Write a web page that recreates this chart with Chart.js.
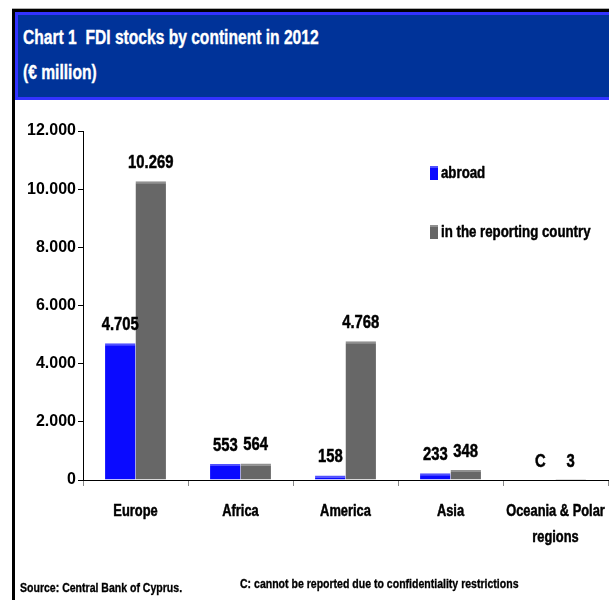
<!DOCTYPE html>
<html>
<head>
<meta charset="utf-8">
<script src="https://cdn.jsdelivr.net/npm/chart.js@4/dist/chart.umd.min.js"></script>
<style>
  html, body { margin: 0; padding: 0; background: #fff; }
  #page { position: relative; width: 609px; height: 600px; overflow: hidden; background: #fff;
          font-family: "Liberation Sans", Arial, sans-serif; font-weight: bold; }
  #shadow { position: absolute; left: 12px; top: 8px; width: 700px; height: 1px; background: #b0b0b0; }
  #frame { position: absolute; left: 12px; top: 9px; width: 700px; height: 700px;
           border-left: 3px solid #000; border-top: 3px solid #000; }
  #band { position: absolute; left: 15px; top: 12px; width: 700px; height: 82px;
          background: #003399; border: 3px solid #3333ff; border-right: none; }
  .narrow { display: inline-block; transform: scaleX(0.78); transform-origin: 0 50%; white-space: pre;
            -webkit-text-stroke: 0.35px currentColor; }
  #band .line { position: absolute; left: 5px; color: #fff; font-size: 20px; }
  #t1 { top: 11px; }
  #t2 { top: 46px; }
  #chart { position: absolute; left: 0; top: 0; }
  .note { position: absolute; font-size: 13.5px; color: #000; }
</style>
</head>
<body>
<div id="page">
  <div id="shadow"></div>
  <div id="frame"></div>
  <div id="band">
    <div class="line" id="t1"><span class="narrow">Chart 1  FDI stocks by continent in 2012</span></div>
    <div class="line" id="t2"><span class="narrow">(€ million)</span></div>
  </div>
  <canvas id="chart" width="609" height="600"></canvas>
  <div class="note" style="left:20px; top:580px;"><span class="narrow">Source: Central Bank of Cyprus.</span></div>
  <div class="note" style="left:240px; top:576px;"><span class="narrow">C: cannot be reported due to confidentiality restrictions</span></div>
</div>
<script>
// Categories and series (€ million). A null value is confidential and shown as "C".
const continents = ["Europe", "Africa", "America", "Asia", ["Oceania & Polar", "regions"]];
const abroad = [4705, 553, 158, 233, null];
const inReportingCountry = [10269, 564, 4768, 348, 3];
const seriesNames = ["abroad", "in the reporting country"];
const yTicks = [0, 2000, 4000, 6000, 8000, 10000, 12000];

const FONT = '"Liberation Sans", Arial, sans-serif';
const SQUEEZE = 0.78; // horizontal squeeze giving a condensed look to the text

// Thousands separated with a dot
function fmt(v) {
  if (v === null || v === undefined) return "C";
  return String(v).replace(/\B(?=(\d{3})+(?!\d))/g, ".");
}

// Draw horizontally condensed (and slightly heavier) text anchored at (x, y)
function narrowText(ctx, text, x, y) {
  ctx.save();
  ctx.translate(x, y);
  ctx.scale(SQUEEZE, 1);
  ctx.strokeStyle = ctx.fillStyle;
  ctx.lineWidth = 0.5;
  ctx.lineJoin = "round";
  ctx.fillText(text, 0, 0);
  ctx.strokeText(text, 0, 0);
  ctx.restore();
}

// Value labels above each bar
const valueLabels = {
  id: "valueLabels",
  afterDatasetsDraw(chart) {
    const ctx = chart.ctx;
    const y = chart.scales.y;
    const x = chart.scales.x;
    ctx.save();
    ctx.font = "bold 19px " + FONT;
    ctx.fillStyle = "#000";
    ctx.textAlign = "center";
    ctx.textBaseline = "bottom";
    chart.data.datasets.forEach((ds, di) => {
      const meta = chart.getDatasetMeta(di);
      const other = chart.getDatasetMeta(1 - di);
      ds.data.forEach((v, i) => {
        const el = meta.data[i];
        const px = el && isFinite(el.x) ? el.x : 2 * x.getPixelForValue(i) - other.data[i].x;
        const top = v === null ? y.getPixelForValue(0) : y.getPixelForValue(v);
        narrowText(ctx, fmt(v), px, top - 9);
      });
    });
    ctx.restore();
  }
};

// Category names under the x axis, centred on each category
const categoryLabels = {
  id: "categoryLabels",
  afterDraw(chart) {
    const ctx = chart.ctx;
    const x = chart.scales.x;
    const base = chart.chartArea.bottom;
    ctx.save();
    ctx.font = "bold 16.5px " + FONT;
    ctx.fillStyle = "#000";
    ctx.textAlign = "center";
    ctx.textBaseline = "middle";
    chart.data.labels.forEach((lab, i) => {
      const lines = Array.isArray(lab) ? lab : [lab];
      const cx = x.getPixelForValue(i);
      lines.forEach((ln, k) => narrowText(ctx, ln, cx, base + 31 + k * 26));
    });
    ctx.restore();
  }
};

// Legend with small upright swatches
const sideLegend = {
  id: "sideLegend",
  afterDraw(chart) {
    const ctx = chart.ctx;
    const rows = [173, 232];
    ctx.save();
    ctx.font = "bold 17px " + FONT;
    ctx.textBaseline = "middle";
    ctx.textAlign = "left";
    chart.data.datasets.forEach((ds, i) => {
      const cy = rows[i];
      ctx.fillStyle = ds.backgroundColor;
      ctx.fillRect(430, cy - 7, 8, 14);
      ctx.fillStyle = ds.borderColor;
      ctx.fillRect(430, cy - 7, 8, 2);
      ctx.fillStyle = "#000";
      narrowText(ctx, ds.label, 441, cy);
    });
    ctx.restore();
  }
};

new Chart(document.getElementById("chart"), {
  type: "bar",
  data: {
    labels: continents,
    datasets: [
      { label: seriesNames[0], data: abroad, backgroundColor: "#0a0aff", borderColor: "#5050ff",
        borderWidth: { top: 2, left: 0, right: 0, bottom: 0 }, borderSkipped: false },
      { label: seriesNames[1], data: inReportingCountry, backgroundColor: "#676767", borderColor: "#909090",
        borderWidth: { top: 2, left: 0, right: 0, bottom: 0 }, borderSkipped: false }
    ]
  },
  options: {
    responsive: false,
    animation: false,
    devicePixelRatio: 1,
    layout: { padding: { top: 131, right: 1, left: 0, bottom: 0 } },
    datasets: { bar: { categoryPercentage: 0.58, barPercentage: 1.0 } },
    plugins: { legend: { display: false }, tooltip: { enabled: false }, title: { display: false } },
    scales: {
      x: {
        grid: { display: true, drawOnChartArea: false, drawTicks: true, tickLength: 6, color: "#888", offset: true },
        border: { display: true, color: "#000", width: 1 },
        ticks: { display: false },
        afterFit(scale) { scale.height = 120; }
      },
      y: {
        min: 0, max: 12000,
        afterBuildTicks(scale) { scale.ticks = yTicks.map(v => ({ value: v })); },
        grid: { display: true, drawOnChartArea: false, drawTicks: true, tickLength: 5, color: "#000" },
        border: { display: true, color: "#000", width: 1 },
        ticks: { color: "#000", font: { family: FONT, size: 16, weight: "bold" }, padding: 2,
                 callback: v => fmt(v) },
        afterFit(scale) { scale.width = 83; }
      }
    }
  },
  plugins: [valueLabels, categoryLabels, sideLegend]
});
</script>
</body>
</html>
